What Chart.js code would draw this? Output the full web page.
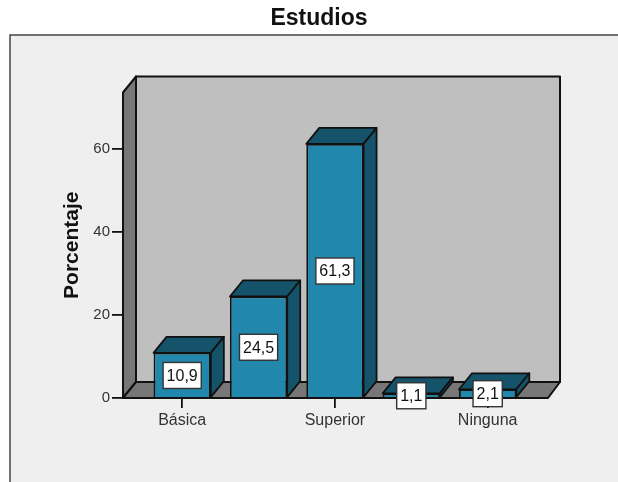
<!DOCTYPE html>
<html>
<head>
<meta charset="utf-8">
<style>
  html, body { margin: 0; padding: 0; background: #fff; }
  canvas { display: block; }
</style>
<script src="https://cdn.jsdelivr.net/npm/chart.js@4"></script>
</head>
<body>
<canvas id="chart" width="618" height="482"></canvas>
<script>
// 1) Data
const categories = ['Básica', '', 'Superior', '', 'Ninguna'];
const values = [10.9, 24.5, 61.3, 1.1, 2.1];
const yTicks = [0, 20, 40, 60];

// 2) Look of the 3D box
const DEPTH_X = 13;
const DEPTH_Y = 16;
const FRONT = '#2187ad';
const DARK = '#14536a';
const LINE = '#111';
const FONT = '"Liberation Sans", Arial, sans-serif';

function poly(ctx, pts, fill){
  ctx.beginPath();
  pts.forEach((p, i) => i ? ctx.lineTo(p[0], p[1]) : ctx.moveTo(p[0], p[1]));
  ctx.closePath();
  ctx.fillStyle = fill;
  ctx.fill();
  ctx.stroke();
}
function fmt(v){ return String(v).replace('.', ','); }

// Frame behind everything
const framePlugin = {
  id: 'frame',
  beforeDraw(chart){
    const ctx = chart.ctx;
    ctx.save();
    ctx.fillStyle = '#efefef';
    ctx.strokeStyle = '#444';
    ctx.lineWidth = 1.5;
    ctx.fillRect(10, 35, 620, 460);
    ctx.strokeRect(10, 35, 620, 460);
    ctx.restore();
  }
};

// Walls and floor
const wallsPlugin = {
  id: 'walls',
  beforeDatasetsDraw(chart){
    const { ctx, chartArea: a } = chart;
    ctx.save();
    ctx.strokeStyle = LINE;
    ctx.lineWidth = 2;
    ctx.lineJoin = 'round';
    poly(ctx, [[a.left + DEPTH_X, a.top - DEPTH_Y], [a.right + DEPTH_X - 1, a.top - DEPTH_Y], [a.right + DEPTH_X - 1, a.bottom - DEPTH_Y], [a.left + DEPTH_X, a.bottom - DEPTH_Y]], '#bfbfbf');
    poly(ctx, [[a.left, a.top], [a.left + DEPTH_X, a.top - DEPTH_Y], [a.left + DEPTH_X, a.bottom - DEPTH_Y], [a.left, a.bottom]], '#777');
    poly(ctx, [[a.left, a.bottom], [a.left + DEPTH_X, a.bottom - DEPTH_Y], [a.right + DEPTH_X - 1, a.bottom - DEPTH_Y], [a.right, a.bottom]], '#777');
    ctx.restore();
  }
};

// Bar sides and value boxes
const barsPlugin = {
  id: 'bars3d',
  beforeDatasetDraw(chart){
    const ctx = chart.ctx;
    ctx.save();
    ctx.strokeStyle = LINE;
    ctx.lineWidth = 1.8;
    ctx.lineJoin = 'round';
    chart.getDatasetMeta(0).data.forEach(bar => {
      const l = bar.x - bar.width / 2, r = bar.x + bar.width / 2;
      poly(ctx, [[l, bar.y], [l + DEPTH_X, bar.y - DEPTH_Y], [r + DEPTH_X, bar.y - DEPTH_Y], [r, bar.y]], DARK);
      poly(ctx, [[r, bar.y], [r + DEPTH_X, bar.y - DEPTH_Y], [r + DEPTH_X, bar.base - DEPTH_Y], [r, bar.base]], DARK);
    });
    ctx.restore();
  },
  afterDatasetsDraw(chart){
    const ctx = chart.ctx;
    ctx.save();
    ctx.font = '16px ' + FONT;
    ctx.textAlign = 'center';
    ctx.textBaseline = 'middle';
    chart.getDatasetMeta(0).data.forEach((bar, i) => {
      const label = fmt(values[i]);
      const w = ctx.measureText(label).width + 7;
      const cy = (bar.y + bar.base) / 2 + 0.5;
      ctx.fillStyle = '#fff';
      ctx.strokeStyle = '#333';
      ctx.lineWidth = 1.4;
      ctx.fillRect(bar.x - w / 2, cy - 13, w, 26);
      ctx.strokeRect(bar.x - w / 2, cy - 13, w, 26);
      ctx.fillStyle = '#111';
      ctx.fillText(label, bar.x, cy + 1);
    });
    ctx.restore();
  }
};

// 3) Chart
new Chart(document.getElementById('chart').getContext('2d'), {
  type: 'bar',
  data: {
    datasets: [{
      data: values.map((v, i) => ({ x: i, y: v })),
      backgroundColor: FRONT,
      borderColor: LINE,
      borderWidth: 1.8,
      barPercentage: 0.75,
      categoryPercentage: 1
    }]
  },
  options: {
    responsive: false,
    animation: false,
    layout: { padding: { left: 60, right: 40, top: 0, bottom: 0 } },
    plugins: {
      legend: { display: false },
      tooltip: { enabled: false },
      title: {
        display: true,
        text: 'Estudios',
        color: '#111',
        font: { family: FONT, size: 23, weight: 'bold' },
        padding: { top: 5, bottom: 59.9 }
      }
    },
    scales: {
      x: {
        type: 'linear',
        offset: false,
        min: -0.775,
        max: 4.79,
        afterBuildTicks(s){ s.ticks = [{ value: 0 }, { value: 2 }, { value: 4 }]; },
        afterFit(s){ s.height = 84; },
        border: { display: false },
        grid: { offset: false, drawOnChartArea: false, drawTicks: true, tickLength: 10, color: LINE, lineWidth: 1.8 },
        ticks: {
          autoSkip: false,
          maxRotation: 0,
          color: '#333',
          padding: 3,
          font: { family: FONT, size: 16 },
          callback: v => categories[v]
        }
      },
      y: {
        min: 0,
        max: 73.7,
        afterBuildTicks(s){ s.ticks = yTicks.map(v => ({ value: v })); },
        afterFit(s){ s.width = 63; },
        border: { display: false },
        grid: { drawOnChartArea: false, drawTicks: true, tickLength: 11, color: LINE, lineWidth: 1.8 },
        ticks: { color: '#333', padding: 2, font: { family: FONT, size: 15 } },
        title: {
          display: true,
          text: 'Porcentaje',
          color: '#111',
          padding: 0,
          font: { family: FONT, size: 21, weight: 'bold' }
        }
      },
      // empty strip on the right so the title stays centred over the frame
      y2: {
        position: 'right',
        afterFit(s){ s.width = 30; },
        border: { display: false },
        grid: { display: false },
        ticks: { display: false }
      }
    }
  },
  plugins: [framePlugin, wallsPlugin, barsPlugin]
});
</script>
</body>
</html>
